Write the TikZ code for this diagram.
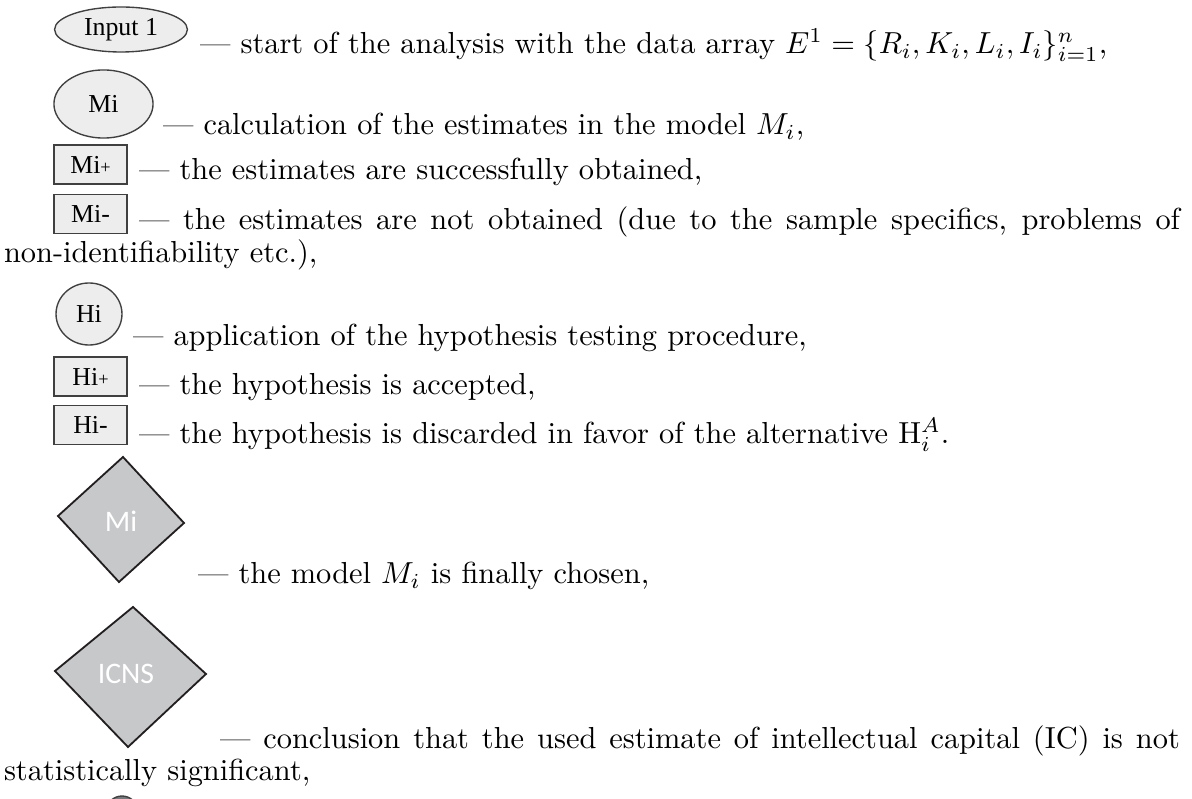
\documentclass[tikz,border=0pt]{standalone}
\usepackage{fontspec}
\newfontfamily\shapeserif{Liberation Serif}
\newfontfamily\shapesans{Carlito}
\usetikzlibrary{shapes.geometric}
\definecolor{lightfill}{HTML}{EDEDEE}
\definecolor{edgegray}{HTML}{404041}
\definecolor{diafill}{HTML}{C7C8CA}
\definecolor{diaedge}{HTML}{231F20}
\definecolor{darkfill}{HTML}{77787B}
\tikzset{
  txt/.style={anchor=base west, inner sep=0pt, outer sep=0pt},
  ovalbox/.style={ellipse, draw=edgegray, fill=lightfill, line width=0.45pt, inner sep=0pt,
    font=\shapeserif\fontsize{8.5}{10}\selectfont},
  rectbox/.style={rectangle, draw=edgegray, fill=lightfill, line width=0.45pt, inner sep=0pt,
    minimum width=24pt, minimum height=12.8pt, font=\shapeserif\fontsize{8.5}{10}\selectfont},
  dia/.style={fill=diafill, draw=diaedge, line width=0.6pt, line join=miter},
  dialabel/.style={inner sep=0pt, text=white, font=\shapesans\fontsize{9.8}{11}\selectfont},
}
\newcommand{\smallplus}{{\fontsize{6}{7}\selectfont +}}
\begin{document}
\begin{tikzpicture}[x=0.3289pt, y=-0.3289pt]
\useasboundingbox (0,0) rectangle (1192,799);

% Input 1
\node[ovalbox, minimum width=43.7pt, minimum height=14.8pt] (in1) at (121,29.5) {Input 1};
\node[txt] (t1) at (200,54) {--- start of the analysis with the data array $E^1=\{R_i,K_i,L_i,I_i\}_{i=1}^n$,};

% Mi ellipse
\node[ovalbox, minimum width=32.6pt, minimum height=22.4pt] (mi) at (103.5,104) {Mi};
\node[txt] (t2) at (163,135) {--- calculation of the estimates in the model $M_i$,};

% Mi+
\node[rectbox] (mip) at (90.5,164.5) {Mi\smallplus};
\node[txt] (t3) at (139,180) {--- the estimates are successfully obtained,};

% Mi-
\node[rectbox] (mim) at (90.5,214) {Mi-};
\node[txt] (t4) at (139,230) {\makebox[342.4pt][s]{--- the estimates are not obtained (due to the sample specifics, problems of}};
\node[txt] (t4b) at (4,263) {non-identifiability etc.),};

% Hi
\node[ovalbox, minimum width=21.7pt, minimum height=20.4pt] (hi) at (89,314) {Hi};
\node[txt] (t5) at (133,346) {--- application of the hypothesis testing procedure,};

% Hi+
\node[rectbox] (hip) at (90.5,376.5) {Hi\smallplus};
\node[txt] (t6) at (139,395) {--- the hypothesis is accepted,};

% Hi-
\node[rectbox] (him) at (90.5,425) {Hi-};
\node[txt] (t7) at (139,444) {--- the hypothesis is discarded in favor of the alternative $\mathrm{H}_i^A$.};

% Mi diamond
\draw[dia] (123,457) -- (184,523) -- (119,582) -- (58,516) -- cycle;
\node[dialabel] (dmi) at (121,521) {Mi};
\node[txt] (t8) at (198,584) {--- the model $M_i$ is finally chosen,};

% ICNS diamond
\draw[dia] (133,607) -- (206,674) -- (128,747) -- (55,671) -- cycle;
\node[dialabel] (dicns) at (126,674) {ICNS};
\node[txt] (t9) at (220,748) {\makebox[315.7pt][s]{--- conclusion that the used estimate of intellectual capital (IC) is not}};
\node[txt] (t9b) at (4,781) {statistically significant,};

% partially visible next shape
\begin{scope}
\clip (0,0) rectangle (1192,799);
\draw[fill=darkfill, draw=edgegray, line width=0.45pt] (122,812) circle [radius=16];
\end{scope}
\end{tikzpicture}
\end{document}
